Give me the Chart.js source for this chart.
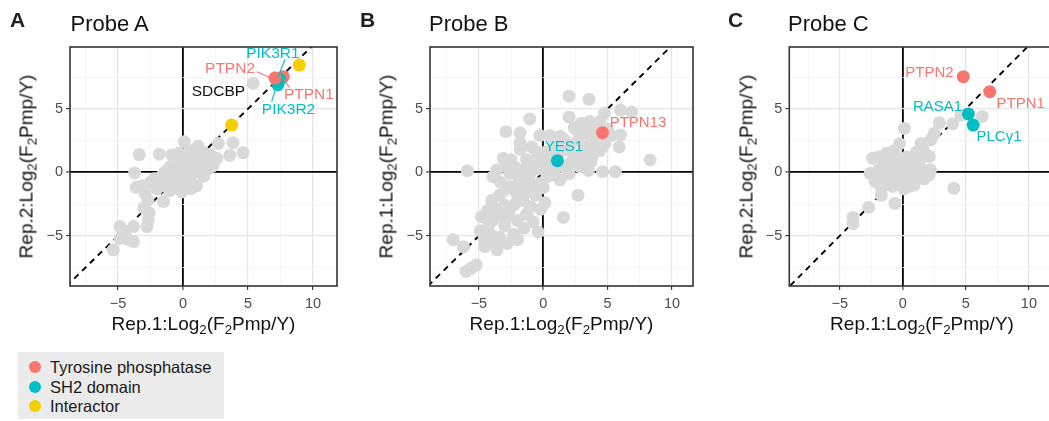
<!DOCTYPE html>
<html>
<head>
<meta charset="utf-8">
<script src="https://cdn.jsdelivr.net/npm/chart.js@4.4.1/dist/chart.umd.min.js"></script>
<style>
html,body{margin:0;padding:0;background:#fff;}
body{width:1049px;height:421px;overflow:hidden;position:relative;font-family:"Liberation Sans",Arial,Helvetica,sans-serif;}
canvas{position:absolute;top:0;}
.letter{position:absolute;font-weight:bold;font-size:21px;line-height:21px;color:#231f20;white-space:nowrap;}
.ptitle{position:absolute;font-size:22px;line-height:22px;color:#111;white-space:nowrap;}
.xt{position:absolute;font-size:19px;line-height:19px;width:300px;text-align:center;color:#111;white-space:nowrap;}
.yt{position:absolute;font-size:19px;line-height:19px;width:300px;text-align:center;color:#111;white-space:nowrap;transform:rotate(-90deg);transform-origin:50% 50%;}
sub{font-size:0.7em;line-height:0;vertical-align:-0.3em;}
#legend{position:absolute;left:18px;top:352px;width:206px;height:67px;background:#ebebeb;}
.li{position:absolute;left:0;height:20px;line-height:20px;font-size:16.5px;color:#1a1a1a;white-space:nowrap;}
.dot{position:absolute;left:11px;top:4px;width:12px;height:12px;border-radius:50%;}
.li span.t{position:absolute;left:32px;top:0;}
</style>
</head>
<body>
<canvas id="cA" width="345" height="320" style="left:0px"></canvas>
<canvas id="cB" width="350" height="320" style="left:350px"></canvas>
<canvas id="cC" width="360" height="320" style="left:700px"></canvas>

<div class="letter" style="left:10px;top:9px">A</div>
<div class="letter" style="left:360px;top:9px">B</div>
<div class="letter" style="left:728px;top:9px">C</div>
<div class="ptitle" style="left:70.5px;top:13px">Probe A</div>
<div class="ptitle" style="left:429px;top:13px">Probe B</div>
<div class="ptitle" style="left:788px;top:13px">Probe C</div>

<div class="xt" style="left:53.5px;top:314px">Rep.1:Log<sub>2</sub>(F<sub>2</sub>Pmp/Y)</div>
<div class="xt" style="left:411.5px;top:314px">Rep.1:Log<sub>2</sub>(F<sub>2</sub>Pmp/Y)</div>
<div class="xt" style="left:772px;top:314px">Rep.1:Log<sub>2</sub>(F<sub>2</sub>Pmp/Y)</div>
<div class="yt" style="left:-123.6px;top:157px">Rep.2:Log<sub>2</sub>(F<sub>2</sub>Pmp/Y)</div>
<div class="yt" style="left:236.4px;top:157px">Rep.1:Log<sub>2</sub>(F<sub>2</sub>Pmp/Y)</div>
<div class="yt" style="left:596.4px;top:157px">Rep.2:Log<sub>2</sub>(F<sub>2</sub>Pmp/Y)</div>

<div id="legend"></div>

<script>
// ---------------- DATA ----------------
const categories = ['Tyrosine phosphatase', 'SH2 domain', 'Interactor'];
const xTickValues = [-7.5, -5, -2.5, 0, 2.5, 5, 7.5, 10, 12.5];
const yTickValues = [-7.5, -5, -2.5, 0, 2.5, 5, 7.5];
const diagonal = [-12, 12];

// Probe A: background proteins [Rep.1, Rep.2]
const probeA_gray = [
  [0.1,2.4],[-3.36,1.4],[-1.82,1.43],[-3.72,-0.05],[1.18,2.05],[2.72,2.27],[3.85,2.33],[3.6,1.33],[4.62,1.55],
  [2.6,1.1],[1.96,0.3],[-0.85,1.36],[-0.3,1.5],[0.6,1.25],[1.4,0.95],[-1.0,0.44],[-1.6,-0.25],[-0.2,-0.65],
  [0.6,-0.78],[1.05,-1.05],[-0.1,-1.55],[-1.0,-1.44],[-1.6,-1.05],[-2.5,-0.78],[-3.1,-1.05],[-3.6,-1.18],
  [-1.5,-2.3],[-2.7,-2.2],[-2.9,-1.7],[-3.0,-2.8],[-2.6,-3.2],[-2.67,-3.75],[-4.85,-4.27],[-3.8,-4.27],
  [-2.77,-4.27],[-4.46,-4.65],[-4.85,-5.2],[-3.8,-5.45],[-5.36,-6.1],[-4.2,-5.3],[5.4,7.0],
  [0.3,0.2],[0.8,0.5],[-0.3,-0.2],[0.5,-0.3],[1.2,0.3],[-0.6,0.3],[0.2,0.9],[1.5,1.6],[2.1,1.4],[0.9,1.8],
  [-0.2,0.7],[0.6,-1.3],[1.6,-0.3],[-1.2,-0.8],[-2.0,-1.3],[-2.2,-0.5],[0.0,-0.9],[1.0,1.0],[1.9,1.0],
  [2.3,0.5],[-0.8,-0.3],[0.4,1.5],[0.9,0.0],[-0.4,-1.1],[-1.4,0.0]
];
const probeA_hitX = [7.72, 7.46, 7.30, 7.08, 3.75, 8.95];
const probeA_hitY = [7.53, 7.30, 6.90, 7.42, 3.72, 8.45];
const probeA_hitCat = [0, 1, 1, 0, 2, 2];

// Probe B
const probeB_gray = [
  [2.0,6.0],[3.55,5.75],[6.0,4.9],[6.85,4.75],[4.75,4.65],[2.0,4.35],[-1.05,4.2],[2.95,3.85],[5.3,2.9],
  [3.8,2.5],[4.8,2.3],[8.3,0.97],[4.6,0.05],[5.6,0.05],[3.5,0.15],[2.7,-1.8],[1.55,-3.55],[2.85,0.45],
  [2.3,0.97],[5.9,2.0],[6.0,2.94],[-2.9,3.2],[-1.8,3.1],[-1.8,2.3],[-1.8,1.8],[-0.26,2.9],[0.5,2.9],
  [1.3,2.85],[2.4,3.5],[3.2,3.3],[3.6,4.0],[4.2,3.6],[5.0,3.4],[4.0,1.8],[3.3,2.0],[2.7,2.5],[2.0,2.2],
  [1.7,1.8],[3.0,1.3],[3.8,1.2],[4.4,1.7],[2.6,1.0],[1.6,0.4],[2.0,-0.1],[0.9,0.3],[0.3,0.6],[-0.4,1.2],
  [0.2,1.6],[0.8,2.0],[-0.9,2.0],[-1.3,1.0],[-0.5,1.6],[0.0,1.0],
  [-3.1,1.1],[-2.5,1.0],[-5.9,0.13],[-3.9,-0.34],[-1.6,0.2],[-2.6,-0.08],[-0.8,0.2],[-2.6,-1.13],
  [-1.8,-1.13],[-0.26,-0.87],[0.13,-2.4],[0.0,-1.2],[-4.0,-2.2],[-3.4,-1.8],[-1.6,-2.2],[-1.0,-2.7],[-2.6,-2.97],
  [-4.8,-3.5],[-3.9,-3.76],[-2.85,-3.5],[-0.8,-3.9],[-0.4,-4.7],[-4.9,-4.6],[-4.1,-4.9],[-3.4,-5.1],
  [-2.3,-4.9],[-3.6,-6.1],[-7.0,-5.3],[-6.2,-5.85],[-5.6,-7.56],[-5.2,-7.3],[-6.0,-7.8],[-4.55,-5.85],
  [-2.0,-5.3],[0.27,-0.35],[1.3,-0.6],
  [-3.3,-0.8],[-2.1,-1.6],[-1.2,-1.5],[-0.6,-1.8],[-0.2,-2.9],[-1.3,-3.3],[-2.2,-2.5],[-3.0,-2.6],
  [-3.7,-2.9],[-4.3,-3.0],[-4.2,-4.1],[-3.0,-4.2],[-2.0,-3.8],[-1.5,-4.4],[-3.8,-5.6],[-4.6,-5.3],
  [-2.8,-5.6],[-0.9,-1.0],[-1.9,-0.5],[-2.9,0.5],[-3.6,0.2],[-3.0,-1.4],[-1.1,-0.3],[0.2,0.1],[0.6,-0.2],
  [1.0,1.2],[1.9,0.6],[3.3,0.7],[4.2,2.6],[3.9,3.1],[4.4,4.0],[2.7,3.2],[1.6,2.6],[-0.7,0.7],[-2.2,0.4],
  [-3.5,-3.4],[3.6,2.9],[4.6,2.0],[3.1,1.7],[2.3,1.5],[3.7,0.8],[1.2,1.5],[-0.2,0.3],[-1.4,-0.7]
];
const probeB_hitX = [4.6, 1.1];
const probeB_hitY = [3.12, 0.92];
const probeB_hitCat = [0, 1];

// Probe C
const probeC_gray = [
  [0.13,3.46],[-0.26,2.25],[2.9,3.9],[3.95,3.82],[6.3,4.4],[4.6,4.5],[2.5,3.07],[2.24,2.6],[1.45,2.28],
  [2.1,1.25],[1.6,1.8],[4.05,-1.26],[-1.7,-1.8],[-0.62,-2.44],[-2.7,-2.75],[-3.95,-3.55],[-3.95,-4.05],
  [-2.4,1.1],[-1.3,1.5],[-0.5,1.25],[0.3,1.2],[-2.6,-0.1],[-2.2,-0.7],[-1.6,0.0],[0.5,-1.1],[-0.8,-1.1],
  [-1.0,0.5],[-0.5,0.3],[0.0,0.0],[0.4,0.4],[0.8,0.2],[-0.3,-0.4],[0.3,-0.6],[-1.2,-0.3],[-0.8,0.9],
  [0.6,0.9],[1.0,-0.6],[-0.2,0.8],[-1.5,0.6],[-1.9,0.2],[-2.0,-0.5],[-1.4,-1.0],[0.1,-1.3],[0.9,-1.0],
  [1.5,0.3],[1.8,1.4],[1.1,1.6],[-0.7,1.7],[-1.9,1.2],[0.0,0.5],[-0.5,-0.8],[0.7,-0.3],[-1.0,-0.6],
  [1.3,1.1],[2.2,0.2],[1.7,-0.5],[1.3,0.7],[2.1,-0.2],[1.2,-0.35],[0.2,-0.2],[-0.3,0.1],[1.0,0.5],[-1.7,-1.2]
];
const probeC_hitX = [4.8, 6.9, 5.2, 5.58];
const probeC_hitY = [7.53, 6.35, 4.6, 3.72];
const probeC_hitCat = [0, 0, 1, 1];

// text annotations (category index, -1 = unclassified)
const probeA_labelText = ['PIK3R1', 'PTPN2', 'SDCBP', 'PTPN1', 'PIK3R2'];
const probeA_labelCat = [1, 0, -1, 0, 1];
const probeB_labelText = ['PTPN13', 'YES1'];
const probeB_labelCat = [0, 1];
const probeC_labelText = ['PTPN2', 'PTPN1', 'RASA1', 'PLC\u03B31'];
const probeC_labelCat = [0, 0, 1, 1];

// ---------------- PLACEMENT / STYLE ----------------
const catColors = ['#F8766D', '#00BFC4', '#F5CE00'];
const labelPosA = [[6.92,9.31],[3.62,8.13],[2.73,6.32],[9.69,6.08],[8.12,4.9]];
const leaderA = [[7.85,8.9,7.33,7.53],[5.67,7.92,6.82,7.4],null,[7.72,7.4,8.18,6.69],[7.2,6.8,6.82,5.56]];
const labelPosB = [[7.36,3.87],[1.61,1.99]];
const labelPosC = [[2.11,7.84],[9.35,5.43],[2.76,5.12],[7.63,2.76]];

const framePlugin = {
  id: 'frame',
  afterDraw(chart) {
    const {ctx, chartArea: a} = chart;
    ctx.save();
    ctx.strokeStyle = '#333333';
    ctx.lineWidth = 1.6;
    ctx.strokeRect(a.left, a.top, a.right - a.left, a.bottom - a.top);
    ctx.restore();
  }
};

function labelPlugin(texts, cats, pos, leaders, fontSize) {
  return {
    id: 'hitLabels',
    afterDatasetsDraw(chart) {
      const {ctx, scales: {x, y}} = chart;
      ctx.save();
      ctx.beginPath();
      const a = chart.chartArea;
      ctx.rect(a.left, a.top, a.right - a.left, a.bottom - a.top);
      ctx.clip();
      texts.forEach((t, i) => {
        const col = cats[i] >= 0 ? catColors[cats[i]] : '#111111';
        if (leaders && leaders[i]) {
          const l = leaders[i];
          ctx.strokeStyle = col;
          ctx.lineWidth = 1.1;
          ctx.beginPath();
          ctx.moveTo(x.getPixelForValue(l[0]), y.getPixelForValue(l[1]));
          ctx.lineTo(x.getPixelForValue(l[2]), y.getPixelForValue(l[3]));
          ctx.stroke();
        }
        ctx.fillStyle = col;
        ctx.font = fontSize + 'px "Liberation Sans", Arial, sans-serif';
        ctx.textAlign = 'center';
        ctx.textBaseline = 'middle';
        ctx.fillText(t, x.getPixelForValue(pos[i][0]), y.getPixelForValue(pos[i][1]));
      });
      ctx.restore();
    }
  };
}

function fmt(v) {
  if (v % 5 !== 0) return '';
  return v < 0 ? '\u2212' + Math.abs(v) : String(v);
}

function axisOpts(vals, min, max, isX, fitSize) {
  return {
    type: 'linear',
    min: min, max: max,
    afterFit(s) { if (isX) s.height = fitSize; else s.width = fitSize; },
    afterBuildTicks(s) { s.ticks = vals.filter(v => v >= min && v <= max).map(v => ({value: v})); },
    border: {display: false},
    grid: {
      color: c => (c.tick && c.tick.value === 0) ? '#000000' : ((c.tick && c.tick.value % 5 === 0) ? '#E6E6E6' : '#F0F0F0'),
      lineWidth: c => (c.tick && c.tick.value === 0) ? 1.8 : ((c.tick && c.tick.value % 5 === 0) ? 1.2 : 0.7),
      tickColor: c => (c.tick && c.tick.value % 5 === 0) ? '#333333' : 'rgba(0,0,0,0)',
      tickLength: 4,
      tickWidth: 1.1
    },
    ticks: {
      autoSkip: false, maxRotation: 0, minRotation: 0, includeBounds: false,
      padding: isX ? 5 : 3,
      color: '#4D4D4D',
      font: {family: '"Liberation Sans", Arial, sans-serif', size: 14.5},
      callback: v => fmt(v)
    }
  };
}

function makePanel(id, plotLeft, padRight, xmin, xmax, gray, hx, hy, hc, lblPlugin) {
  const canvas = document.getElementById(id);
  const H = canvas.height;
  return new Chart(canvas, {
    type: 'scatter',
    data: {
      datasets: [
        {
          data: diagonal.map(v => ({x: v, y: v})),
          showLine: true, borderColor: '#000000', borderWidth: 1.9, borderDash: [6, 5],
          pointRadius: 0, order: 3
        },
        {
          data: gray.map(p => ({x: p[0], y: p[1]})),
          backgroundColor: '#D9D9D9', borderWidth: 0, pointRadius: 6.5, order: 2
        },
        {
          data: hx.map((v, i) => ({x: v, y: hy[i]})),
          backgroundColor: hc.map(c => catColors[c]), borderWidth: 0, pointRadius: 6.5, order: 1
        }
      ]
    },
    options: {
      responsive: false, animation: false, devicePixelRatio: 1,
      events: [],
      layout: {padding: {left: 0, right: padRight, top: 47, bottom: 0}},
      plugins: {legend: {display: false}, tooltip: {enabled: false}},
      scales: {
        x: axisOpts(xTickValues, xmin, xmax, true, H - 286),
        y: axisOpts(yTickValues, -8.95, 9.87, false, plotLeft)
      }
    },
    plugins: [framePlugin, lblPlugin]
  });
}

makePanel('cA', 70, 8, -8.69, 11.85, probeA_gray, probeA_hitX, probeA_hitY, probeA_hitCat,
  labelPlugin(probeA_labelText, probeA_labelCat, labelPosA, leaderA, 15.5));
makePanel('cB', 80, 7, -8.8, 11.63, probeB_gray, probeB_hitX, probeB_hitY, probeB_hitCat,
  labelPlugin(probeB_labelText, probeB_labelCat, labelPosB, null, 15));
makePanel('cC', 89.3, 5, -9.0, 11.95, probeC_gray, probeC_hitX, probeC_hitY, probeC_hitCat,
  labelPlugin(probeC_labelText, probeC_labelCat, labelPosC, null, 15));

// legend
const legend = document.getElementById('legend');
const legendY = [5, 25, 44];
categories.forEach((name, i) => {
  const item = document.createElement('div');
  item.className = 'li';
  item.style.top = legendY[i] + 'px';
  const d = document.createElement('span');
  d.className = 'dot';
  d.style.background = catColors[i];
  const t = document.createElement('span');
  t.className = 't';
  t.textContent = name;
  item.appendChild(d);
  item.appendChild(t);
  legend.appendChild(item);
});
</script>
</body>
</html>
